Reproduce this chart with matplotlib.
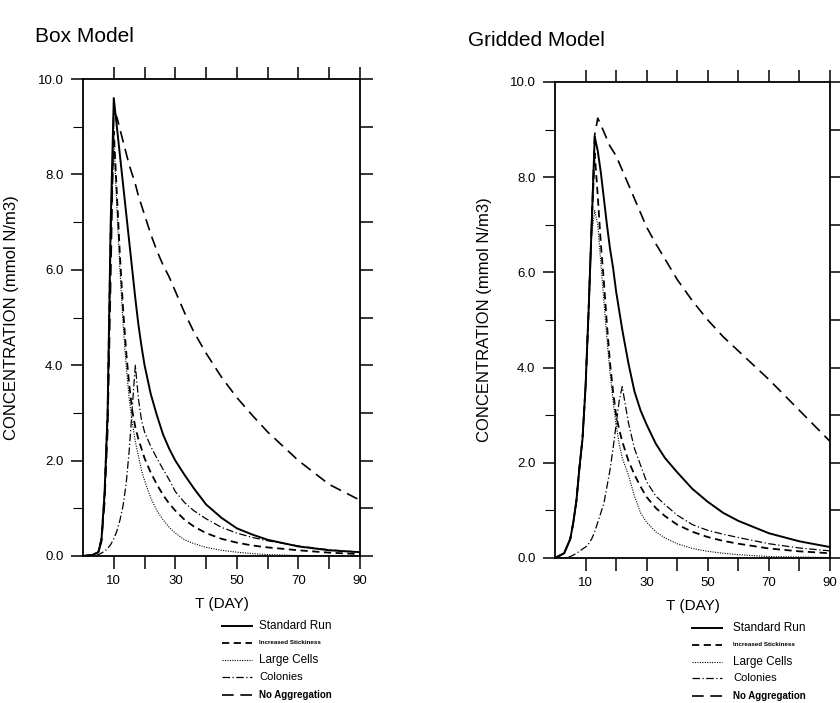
import matplotlib
matplotlib.use("Agg")
import matplotlib.pyplot as plt
from matplotlib.lines import Line2D
from matplotlib.ticker import MultipleLocator, FixedLocator

plt.rcParams['font.family'] = ['Liberation Sans', 'DejaVu Sans']

# ---- data ----
days_box = [0, 3, 5, 6, 7, 8, 9, 10, 11, 12, 13, 14, 15, 16, 17, 18, 19, 20,
            22, 24, 26, 28, 30, 33, 36, 40, 45, 50, 55, 60, 70, 80, 90]
std_box = [0.0, 0.02, 0.08, 0.35, 1.3, 3.0, 7.0, 9.6, 9.0, 8.4, 7.8, 7.2, 6.6, 6.0, 5.4,
           4.85, 4.4, 4.0, 3.4, 2.95, 2.55, 2.25, 2.0, 1.7, 1.42, 1.08, 0.8, 0.58,
           0.45, 0.34, 0.2, 0.12, 0.08]
stick_box = [0.0, 0.02, 0.08, 0.35, 1.3, 3.0, 6.8, 8.9, 7.6, 6.3, 5.2, 4.3, 3.6, 3.05, 2.7,
             2.45, 2.25, 2.05, 1.75, 1.5, 1.28, 1.1, 0.95, 0.76, 0.62, 0.48, 0.36, 0.28,
             0.22, 0.18, 0.12, 0.07, 0.04]
large_box = [0.0, 0.02, 0.08, 0.35, 1.3, 3.0, 6.8, 8.8, 7.3, 6.0, 4.9, 4.0, 3.3, 2.8, 2.4,
             2.1, 1.8, 1.58, 1.22, 0.95, 0.76, 0.6, 0.48, 0.34, 0.26, 0.18, 0.12, 0.08,
             0.05, 0.03, 0.01, 0.0, 0.0]
col_box = [0.0, 0.0, 0.03, 0.06, 0.1, 0.16, 0.24, 0.36, 0.52, 0.75, 1.05, 1.5, 2.2, 3.1, 4.0,
           3.3, 2.85, 2.6, 2.3, 2.05, 1.82, 1.6, 1.35, 1.12, 0.95, 0.78, 0.6, 0.48,
           0.39, 0.32, 0.21, 0.13, 0.08]
noagg_box = [0.0, 0.02, 0.08, 0.3, 1.1, 2.6, 5.8, 9.3, 9.2, 8.95, 8.7, 8.45, 8.2, 8.0, 7.8,
             7.55, 7.35, 7.15, 6.75, 6.4, 6.1, 5.85, 5.55, 5.1, 4.7, 4.25, 3.75, 3.32,
             2.95, 2.6, 2.0, 1.5, 1.17]

days_grid = [0, 3, 5, 6, 7, 8, 9, 10, 11, 12, 13, 14, 15, 16, 17, 18, 19, 20, 21,
             22, 24, 26, 28, 30, 33, 36, 40, 45, 50, 55, 60, 70, 80, 90]
std_grid = [0.0, 0.1, 0.4, 0.75, 1.2, 1.9, 2.5, 3.6, 5.2, 7.0, 8.85, 8.55, 8.1, 7.55, 7.0,
            6.5, 6.1, 5.6, 5.2, 4.8, 4.1, 3.5, 3.1, 2.8, 2.4, 2.1, 1.8, 1.45, 1.18, 0.95,
            0.78, 0.52, 0.35, 0.23]
stick_grid = [0.0, 0.1, 0.4, 0.75, 1.2, 1.9, 2.5, 3.6, 5.2, 7.0, 8.5, 7.6, 6.6, 5.8, 4.9,
              4.1, 3.5, 3.0, 2.7, 2.45, 2.05, 1.75, 1.5, 1.28, 1.05, 0.88, 0.7, 0.55, 0.44,
              0.36, 0.3, 0.2, 0.14, 0.1]
large_grid = [0.0, 0.1, 0.4, 0.75, 1.2, 1.9, 2.5, 3.6, 5.2, 6.8, 7.3, 7.0, 6.2, 5.4, 4.6,
              3.9, 3.3, 2.8, 2.4, 2.1, 1.75, 1.3, 0.95, 0.75, 0.55, 0.42, 0.3, 0.2, 0.14,
              0.1, 0.07, 0.03, 0.02, 0.01]
col_grid = [0.0, 0.0, 0.03, 0.06, 0.1, 0.14, 0.19, 0.23, 0.3, 0.4, 0.55, 0.75, 0.95, 1.15,
            1.5, 1.85, 2.3, 2.8, 3.3, 3.6, 2.85, 2.3, 1.95, 1.6, 1.3, 1.12, 0.9, 0.7, 0.58,
            0.5, 0.43, 0.3, 0.21, 0.15]
noagg_grid = [0.0, 0.1, 0.4, 0.75, 1.2, 1.9, 2.5, 3.6, 5.2, 7.0, 8.9, 9.24, 9.1, 8.95, 8.8,
              8.65, 8.55, 8.45, 8.3, 8.15, 7.85, 7.55, 7.25, 6.95, 6.6, 6.28, 5.85, 5.4,
              5.0, 4.65, 4.35, 3.75, 3.1, 2.45]

run_names = ["Standard Run", "Increased Stickiness", "Large Cells", "Colonies", "No Aggregation"]
legend_sizes = [8.5, 4.5, 8.5, 8, 7]
xtick_pos = [10, 20, 30, 40, 50, 60, 70, 80, 90]
xtick_lab = ["10", "", "30", "", "50", "", "70", "", "90"]

styles = {
    "Standard Run": dict(color="black", lw=1.4, ls="-"),
    "Increased Stickiness": dict(color="black", lw=1.3, ls=(0, (4, 2.5))),
    "Large Cells": dict(color="black", lw=0.8, ls=(0, (1, 1.2))),
    "Colonies": dict(color="black", lw=0.9, ls=(0, (6, 2, 1, 2))),
    "No Aggregation": dict(color="black", lw=1.2, ls=(0, (7, 4))),
}

W, H = 840, 703
fig = plt.figure(figsize=(W / 100, H / 100), dpi=100)


def px_rect(x0, y0, x1, y1):
    return [x0 / W, 1 - y1 / H, (x1 - x0) / W, (y1 - y0) / H]


def panel(rect, days, series, title, title_pos, leg_line_x, leg_text_x, leg_rows):
    ax = fig.add_axes(px_rect(*rect))
    for name, vals in zip(run_names, series):
        ax.plot(days, vals, **styles[name])
    ax.set_xlim(0, 90)
    ax.set_ylim(0, 10)
    ax.xaxis.set_major_locator(FixedLocator(xtick_pos))
    ax.set_xticklabels(xtick_lab)
    ax.yaxis.set_major_locator(MultipleLocator(2))
    ax.yaxis.set_minor_locator(MultipleLocator(1))
    ax.set_yticklabels([f"{v:.1f}" for v in ax.get_yticks()])
    ax.tick_params(which="major", direction="out", length=9, width=1.1,
                   labelsize=9.5, top=True, pad=5)
    ax.tick_params(which="minor", direction="out", length=7, width=0.8)
    for s in ax.spines.values():
        s.set_linewidth(1.3)
    ax.set_xlabel("T (DAY)", fontsize=11, labelpad=7)
    ax.set_ylabel("CONCENTRATION (mmol N/m3)", fontsize=12)
    ax.yaxis.set_label_coords(-0.23, 0.5)

    # ticks on the right side, one per unit
    ax2 = ax.twinx()
    ax2.set_ylim(0, 10)
    ax2.yaxis.set_major_locator(MultipleLocator(1))
    ax2.set_yticklabels([])
    ax2.tick_params(direction="out", length=9, width=1.1)
    for s in ax2.spines.values():
        s.set_visible(False)

    fig.text(title_pos[0] / W, 1 - title_pos[1] / H, title, fontsize=15,
             ha="left", va="center")

    for name, fs, y in zip(run_names, legend_sizes, leg_rows):
        fig.add_artist(Line2D([leg_line_x[0] / W, leg_line_x[1] / W],
                              [1 - y / H, 1 - y / H], transform=fig.transFigure,
                              **styles[name]))
        fig.text(leg_text_x / W, 1 - y / H, name, fontsize=fs,
                 fontweight="bold" if fs < 7.5 else "normal",
                 ha="left", va="center")
    return ax


panel((83, 79, 360, 556), days_box,
      [std_box, stick_box, large_box, col_box, noagg_box],
      "Box Model", (35, 37), (222, 252), 259, [626, 643, 660, 677, 695])
panel((555, 82, 830, 558), days_grid,
      [std_grid, stick_grid, large_grid, col_grid, noagg_grid],
      "Gridded Model", (468, 40), (692, 722), 733, [628, 645, 662, 678, 696])

fig.savefig("out.png", dpi=100)
